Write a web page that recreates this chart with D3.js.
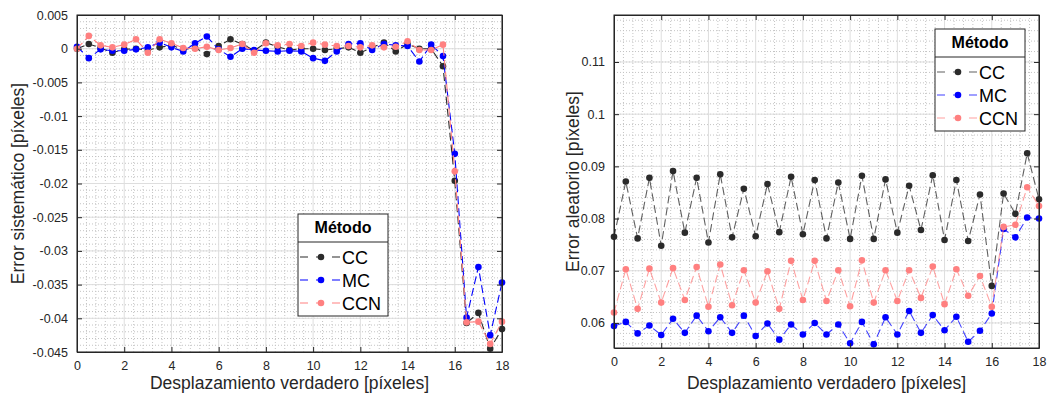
<!DOCTYPE html>
<html>
<head>
<meta charset="utf-8">
<script src="https://cdn.jsdelivr.net/npm/d3@7"></script>
<style>
  body { margin: 0; background: #fff; }
  svg { display: block; font-family: "Liberation Sans", Arial, sans-serif; }
</style>
</head>
<body>
<div id="chart"></div>
<script>
// desplazamiento verdadero (px)
const desplazamiento = [0, 0.5, 1, 1.5, 2, 2.5, 3, 3.5, 4, 4.5, 5, 5.5, 6, 6.5, 7, 7.5, 8, 8.5, 9,
  9.5, 10, 10.5, 11, 11.5, 12, 12.5, 13, 13.5, 14, 14.5, 15, 15.5, 16, 16.5, 17, 17.5, 18];

const metodos = ['CC', 'MC', 'CCN'];
const colores = ['#2b2b2b', '#0000ff', '#ff8080'];

// error sistemático
const sisCC = [0, 0.0007, 0.0001, -0.0006, -0.0001, 0, -0.0002, 0.0002, 0.0005, -0.0001, 0.0001, -0.0008,
  0.0004, 0.0014, 0.0007, -0.0003, 0.0009, 0.0003, -0.0002, 0, 0, -0.0002, 0, 0.0002, -0.0006, 0.0002,
  0.0009, -0.0004, 0.0007, 0, 0, -0.0026, -0.0196, -0.0407, -0.0392, -0.0445, -0.0416];
const sisMC = [0.0003, -0.0014, -0.0001, -0.0003, -0.0003, -0.0001, 0.0002, 0.0009, 0.0002, -0.0004, 0.0008,
  0.0018, -0.0001, -0.0012, 0, -0.0002, -0.0003, -0.0004, -0.0003, -0.0004, -0.0014, -0.0018, -0.0004,
  0.0007, 0.0008, -0.0002, 0.0007, 0.0005, 0.0004, -0.0019, 0.0006, -0.0011, -0.0156, -0.0399, -0.0324,
  -0.0425, -0.0347];
const sisCCN = [0, 0.0019, 0.0005, 0.0002, 0.0006, 0.0014, -0.0006, 0.0014, 0.0008, 0.0001, 0, 0.0003,
  -0.0002, 0.0001, 0.0007, -0.0006, 0.0008, 0.0005, 0.0007, 0.0004, 0.0009, 0.0006, 0.0004, 0.0004,
  0.0002, 0.0005, 0.0002, 0.0003, 0.0011, -0.0002, -0.0002, 0.0006, -0.0182, -0.0406, -0.0405, -0.0438,
  -0.0405];

// error aleatorio
const aleCC = [0.0765, 0.0871, 0.0762, 0.0878, 0.0748, 0.0891, 0.0773, 0.0878, 0.0754, 0.0885, 0.0764,
  0.0857, 0.0766, 0.0866, 0.0774, 0.0880, 0.0770, 0.0874, 0.0762, 0.0869, 0.0761, 0.0882, 0.0761, 0.0875,
  0.0773, 0.0863, 0.0778, 0.0883, 0.0759, 0.0874, 0.0757, 0.0846, 0.0671, 0.0848, 0.0809, 0.0925, 0.0837];
const aleMC = [0.0594, 0.0602, 0.0580, 0.0595, 0.0577, 0.0608, 0.0581, 0.0614, 0.0584, 0.0611, 0.0581,
  0.0614, 0.0575, 0.0599, 0.0568, 0.0597, 0.0578, 0.0600, 0.0578, 0.0597, 0.0561, 0.0602, 0.0559, 0.0611,
  0.0578, 0.0623, 0.0581, 0.0615, 0.0586, 0.0612, 0.0564, 0.0585, 0.0618, 0.0780, 0.0764, 0.0802, 0.0800];
const aleCCN = [0.0620, 0.0703, 0.0627, 0.0704, 0.0639, 0.0705, 0.0644, 0.0707, 0.0631, 0.0712, 0.0634,
  0.0701, 0.0639, 0.0699, 0.0627, 0.0719, 0.0644, 0.0719, 0.0642, 0.0701, 0.0632, 0.0720, 0.0639, 0.0701,
  0.0642, 0.0701, 0.0648, 0.0708, 0.0636, 0.0703, 0.0652, 0.0690, 0.0631, 0.0784, 0.0788, 0.0860, 0.0824];

const xTicks = [0, 2, 4, 6, 8, 10, 12, 14, 16, 18];
const sisTicks = [0.005, 0, -0.005, -0.01, -0.015, -0.02, -0.025, -0.03, -0.035, -0.04, -0.045];
const aleTicks = [0.06, 0.07, 0.08, 0.09, 0.1, 0.11];

const svg = d3.select('#chart').append('svg')
  .attr('width', 1048)
  .attr('height', 396);

function drawPanel(cfg) {
  const x = d3.scaleLinear().domain([0, 18]).range([cfg.left, cfg.right]);
  const y = d3.scaleLinear().domain(cfg.yDomain).range([cfg.bottom, cfg.top]);
  const g = svg.append('g');

  // minor grid (dotted)
  const xMinor = d3.range(0, 18.001, 0.4).filter(v => Math.abs(v / 2 - Math.round(v / 2)) > 0.01);
  g.selectAll('.xminor').data(xMinor).enter().append('line')
    .attr('x1', d => x(d)).attr('x2', d => x(d))
    .attr('y1', cfg.top).attr('y2', cfg.bottom)
    .attr('stroke', '#c4c4c4').attr('stroke-width', 1).attr('stroke-dasharray', '1,2');
  const yMinor = d3.range(cfg.yDomain[0], cfg.yDomain[1], cfg.minorStep)
    .map(v => Math.round(v / cfg.minorStep) * cfg.minorStep)
    .filter(v => v > cfg.yDomain[0] && v < cfg.yDomain[1]);
  g.selectAll('.yminor').data(yMinor).enter().append('line')
    .attr('x1', cfg.left).attr('x2', cfg.right)
    .attr('y1', d => y(d)).attr('y2', d => y(d))
    .attr('stroke', '#c4c4c4').attr('stroke-width', 1).attr('stroke-dasharray', '1,2');

  // major grid
  g.selectAll('.xmajor').data(xTicks).enter().append('line')
    .attr('x1', d => x(d)).attr('x2', d => x(d))
    .attr('y1', cfg.top).attr('y2', cfg.bottom)
    .attr('stroke', '#dedede').attr('stroke-width', 1);
  g.selectAll('.ymajor').data(cfg.yTicks).enter().append('line')
    .attr('x1', cfg.left).attr('x2', cfg.right)
    .attr('y1', d => y(d)).attr('y2', d => y(d))
    .attr('stroke', '#dedede').attr('stroke-width', 1);

  // series
  cfg.series.forEach((s, i) => {
    const pts = desplazamiento.map((d, j) => [d, s[j]]);
    const line = d3.line().x(d => x(d[0])).y(d => y(d[1]));
    g.append('path')
      .attr('d', line(pts))
      .attr('fill', 'none')
      .attr('stroke', colores[i])
      .attr('stroke-opacity', cfg.lineOpacity)
      .attr('stroke-width', 1.1)
      .attr('stroke-dasharray', '8,4');
    g.selectAll('.pt' + i).data(pts).enter().append('circle')
      .attr('cx', d => x(d[0])).attr('cy', d => y(d[1]))
      .attr('r', 3.3)
      .attr('fill', colores[i]);
  });

  // axes with box
  const axisColor = '#262626';
  const xAxis = d3.axisBottom(x).tickValues(xTicks).tickSizeInner(-5).tickSizeOuter(0).tickPadding(9)
    .tickFormat(d => d);
  const gx = g.append('g').attr('transform', 'translate(0,' + cfg.bottom + ')').call(xAxis);
  const xTop = d3.axisTop(x).tickValues(xTicks).tickSizeInner(-5).tickSizeOuter(0).tickFormat('');
  const gxt = g.append('g').attr('transform', 'translate(0,' + cfg.top + ')').call(xTop);
  const yAxis = d3.axisLeft(y).tickValues(cfg.yTicks).tickSizeInner(-5).tickSizeOuter(0).tickPadding(9)
    .tickFormat(d => String(+d.toFixed(3)));
  const gy = g.append('g').attr('transform', 'translate(' + cfg.left + ',0)').call(yAxis);
  const yRight = d3.axisRight(y).tickValues(cfg.yTicks).tickSizeInner(-5).tickSizeOuter(0).tickFormat('');
  const gyr = g.append('g').attr('transform', 'translate(' + cfg.right + ',0)').call(yRight);
  [gx, gxt, gy, gyr].forEach(a => {
    a.select('.domain').attr('stroke', axisColor).attr('stroke-width', 1);
    a.selectAll('.tick line').attr('stroke', axisColor);
    a.selectAll('.tick text').attr('fill', axisColor).attr('font-size', 12.5)
      .attr('font-family', '"Liberation Sans", Arial, sans-serif');
  });
  // close box
  g.append('rect')
    .attr('x', cfg.left).attr('y', cfg.top)
    .attr('width', cfg.right - cfg.left).attr('height', cfg.bottom - cfg.top)
    .attr('fill', 'none').attr('stroke', axisColor).attr('stroke-width', 1);

  // axis labels
  g.append('text')
    .attr('x', (cfg.left + cfg.right) / 2).attr('y', 389)
    .attr('text-anchor', 'middle').attr('font-size', 17.5).attr('fill', axisColor)
    .text('Desplazamiento verdadero [píxeles]');
  g.append('text')
    .attr('transform', 'translate(' + cfg.yLabelX + ',' + ((cfg.top + cfg.bottom) / 2) + ') rotate(-90)')
    .attr('text-anchor', 'middle').attr('font-size', 17.5).attr('fill', axisColor)
    .text(cfg.yLabel);

  // legend
  const lg = g.append('g').attr('transform', 'translate(' + cfg.legX + ',' + cfg.legY + ')');
  lg.append('rect').attr('width', 90).attr('height', 102)
    .attr('fill', '#fff').attr('stroke', '#262626').attr('stroke-width', 1);
  lg.append('line').attr('x1', 0).attr('x2', 90).attr('y1', 28).attr('y2', 28)
    .attr('stroke', '#262626').attr('stroke-width', 1);
  lg.append('text').attr('x', 45).attr('y', 19).attr('text-anchor', 'middle')
    .attr('font-size', 16).attr('font-weight', 'bold').attr('fill', '#000').text('Método');
  metodos.forEach((m, i) => {
    const yy = 43 + i * 23;
    lg.append('line').attr('x1', 2).attr('x2', 42).attr('y1', yy).attr('y2', yy)
      .attr('stroke', colores[i]).attr('stroke-opacity', cfg.lineOpacity)
      .attr('stroke-width', 1.1).attr('stroke-dasharray', '8,8');
    lg.append('circle').attr('cx', 23).attr('cy', yy).attr('r', 3.3).attr('fill', colores[i]);
    lg.append('text').attr('x', 44).attr('y', yy + 6.5).attr('font-size', 18)
      .attr('fill', '#000').text(m);
  });
}

drawPanel({
  left: 77, right: 502, top: 15, bottom: 352,
  yDomain: [-0.045, 0.005], yTicks: sisTicks, minorStep: 0.001,
  series: [sisCC, sisMC, sisCCN], lineOpacity: 1,
  yLabel: 'Error sistemático [píxeles]', yLabelX: 24,
  legX: 298, legY: 214
});

drawPanel({
  left: 614, right: 1039, top: 15, bottom: 348,
  yDomain: [0.0552, 0.119], yTicks: aleTicks, minorStep: 0.002,
  series: [aleCC, aleMC, aleCCN], lineOpacity: 0.75,
  yLabel: 'Error aleatorio [píxeles]', yLabelX: 579,
  legX: 935, legY: 29
});
</script>
</body>
</html>
